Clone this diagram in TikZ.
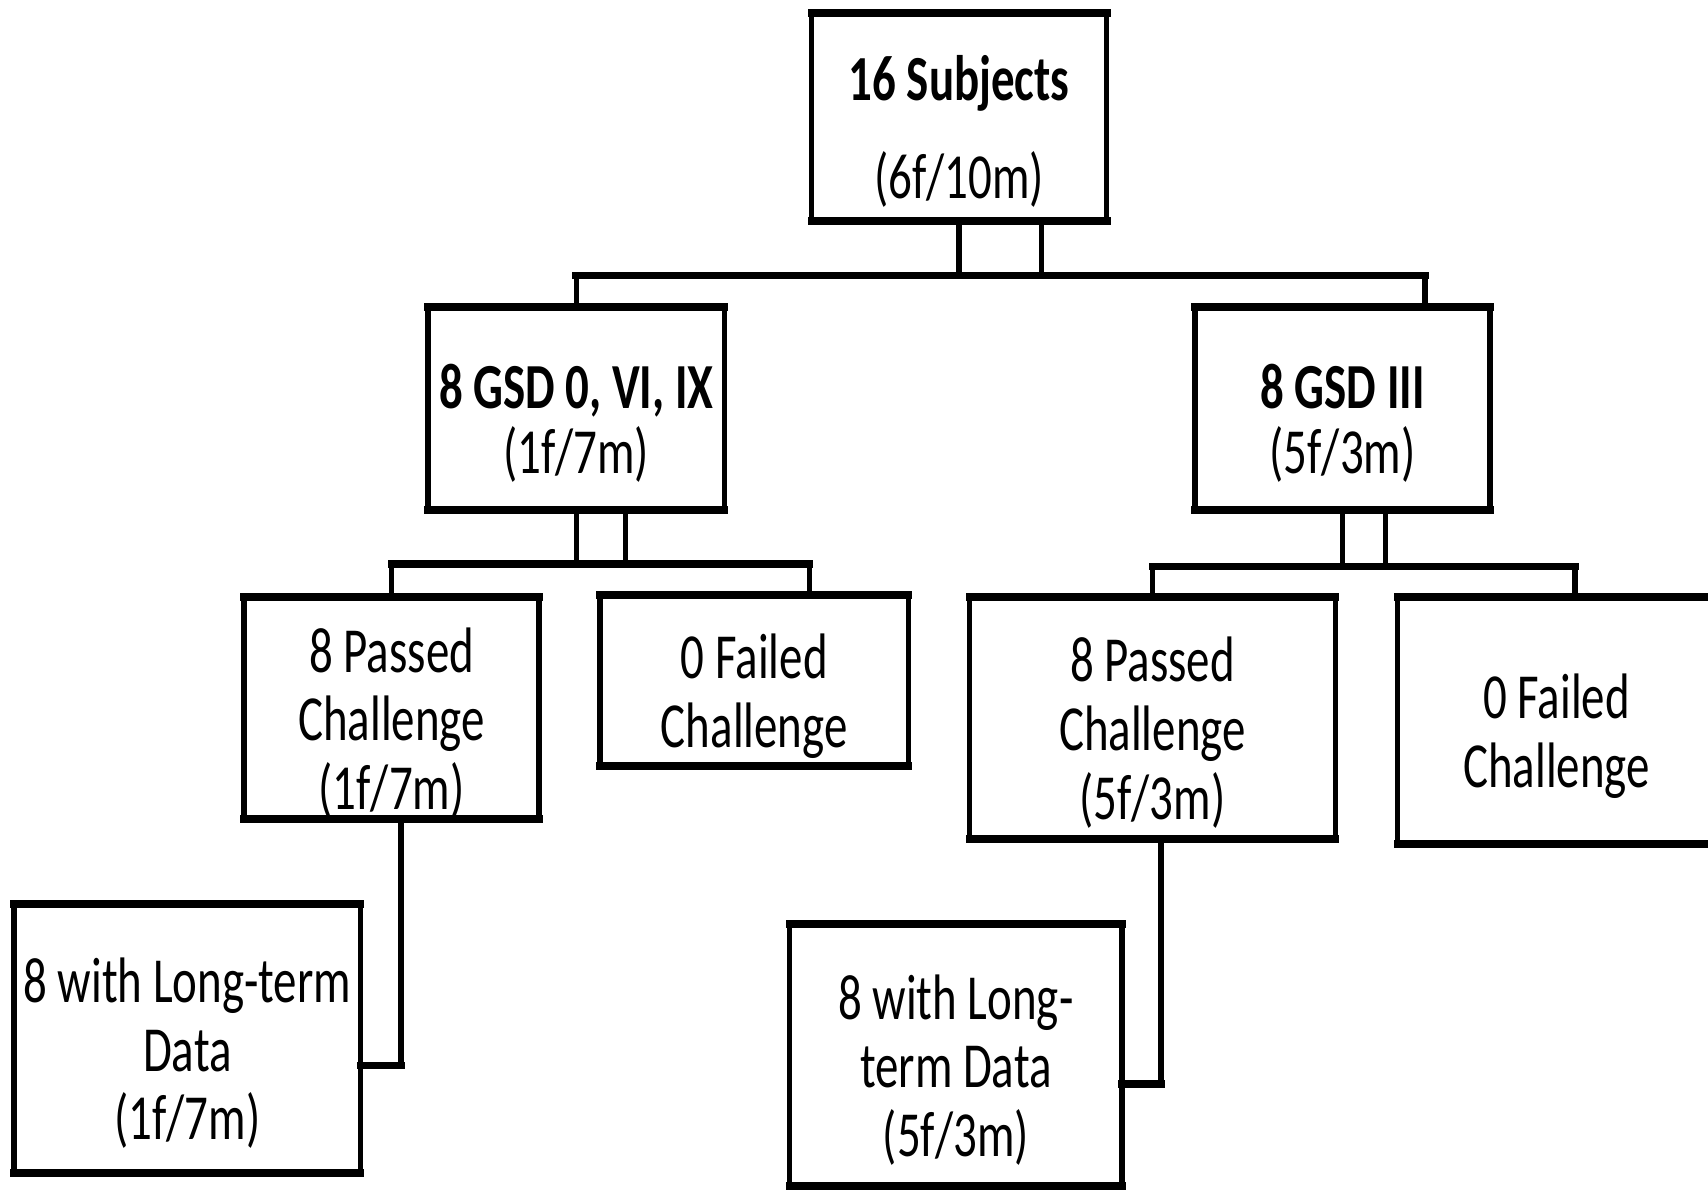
\documentclass[tikz,border=0pt]{standalone}
\usepackage{fontspec}
\setmainfont{Carlito}[FakeStretch=0.73]
\usetikzlibrary{calc}
\newcommand{\boxstrut}{\rule{0pt}{60pt}}

\begin{document}
\begin{tikzpicture}[x=1pt,y=-1pt,line cap=rect,
  hl/.style={line width=7pt},
  vl/.style={line width=5pt},
  box/.style={rectangle,inner sep=0pt,outer sep=0pt,align=center,
    font=\fontsize{59}{63}\selectfont,text depth=0pt}]
\clip (0,0) rectangle (1568,1093);
\fill[white] (0,0) rectangle (1568,1093);

% boxes
\node[box,minimum width=271pt,minimum height=191pt] (top) at (880.5,107.5) {\boxstrut\textbf{16 Subjects}\\[27pt](6f/10m)};
\node[box,minimum width=272pt,minimum height=186pt] (gsdA) at (529,375) {\boxstrut\textbf{8 GSD 0, VI, IX}\\[-3pt](1f/7m)};
\node[box,minimum width=271pt,minimum height=186pt] (gsdB) at (1232.5,375) {\boxstrut\textbf{8 GSD III}\\[-3pt](5f/3m)};
\node[box,minimum width=271pt,minimum height=204pt] (passA) at (359.5,650) {\boxstrut 8 Passed\\Challenge\\(1f/7m)};
\node[box,minimum width=283pt,minimum height=157pt] (failA) at (692.5,624.5) {\boxstrut 0 Failed\\Challenge};
\node[box,minimum width=336pt,minimum height=222pt] (passB) at (1058,659) {\boxstrut 8 Passed\\Challenge\\(5f/3m)};
\node[box,minimum width=292pt,minimum height=227pt] (failB) at (1429,661.5) {\boxstrut 0 Failed\\Challenge};
\node[box,minimum width=318pt,minimum height=247pt] (longA) at (172,953.5) {\boxstrut 8 with Long-term\\Data\\(1f/7m)};
\node[box,minimum width=305pt,minimum height=241pt] (longB) at (877.5,968.5) {\boxstrut 8 with Long-\\term Data\\(5f/3m)};

\foreach \b in {top,gsdA,gsdB,passA,failA,passB,failB,longA,longB}{
  \draw[hl] (\b.north west) -- (\b.north east) (\b.south west) -- (\b.south east);
  \draw[vl] (\b.north west) -- (\b.south west) (\b.north east) -- (\b.south east);
}

% top split
\coordinate (busL) at (529,253);
\coordinate (busR) at (1308,253);
\coordinate (topR) at (956,203);
\draw[vl] (top.south) -- (top.south |- busL);
\draw[vl] (topR) -- (topR |- busL);
\draw[hl] (busL) -- (busR);
\draw[vl] (busL) -- (gsdA.north);
\draw[vl] (busR) -- (busR |- gsdB.north);

% left split
\coordinate (gsdAr) at (574,468);
\coordinate (forkAl) at (359.5,518);
\coordinate (forkAr) at (743,518);
\draw[vl] (gsdA.south) -- (gsdA.south |- forkAl);
\draw[vl] (gsdAr) -- (gsdAr |- forkAl);
\draw[hl] (forkAl) -- (forkAr);
\draw[vl] (forkAl) -- (passA.north);
\draw[vl] (forkAr) -- (forkAr |- failA.north);

% right split
\coordinate (gsdBr) at (1272,468);
\coordinate (forkBl) at (1058,520);
\coordinate (forkBr) at (1446,520);
\draw[vl] (gsdB.south) -- (gsdB.south |- forkBl);
\draw[vl] (gsdBr) -- (gsdBr |- forkBl);
\draw[hl] (forkBl) -- (forkBr);
\draw[vl] (forkBl) -- (passB.north);
\draw[vl] (forkBr) -- (forkBr |- failB.north);

% long-term data
\coordinate (elbowA) at (368,978);
\draw[vl] (passA.south -| elbowA) -- (elbowA);
\draw[hl] (elbowA) -- (elbowA -| longA.east);
\coordinate (elbowB) at (1066,995);
\draw[vl] (passB.south -| elbowB) -- (elbowB);
\draw[hl] (elbowB) -- (elbowB -| longB.east);
\end{tikzpicture}
\end{document}
